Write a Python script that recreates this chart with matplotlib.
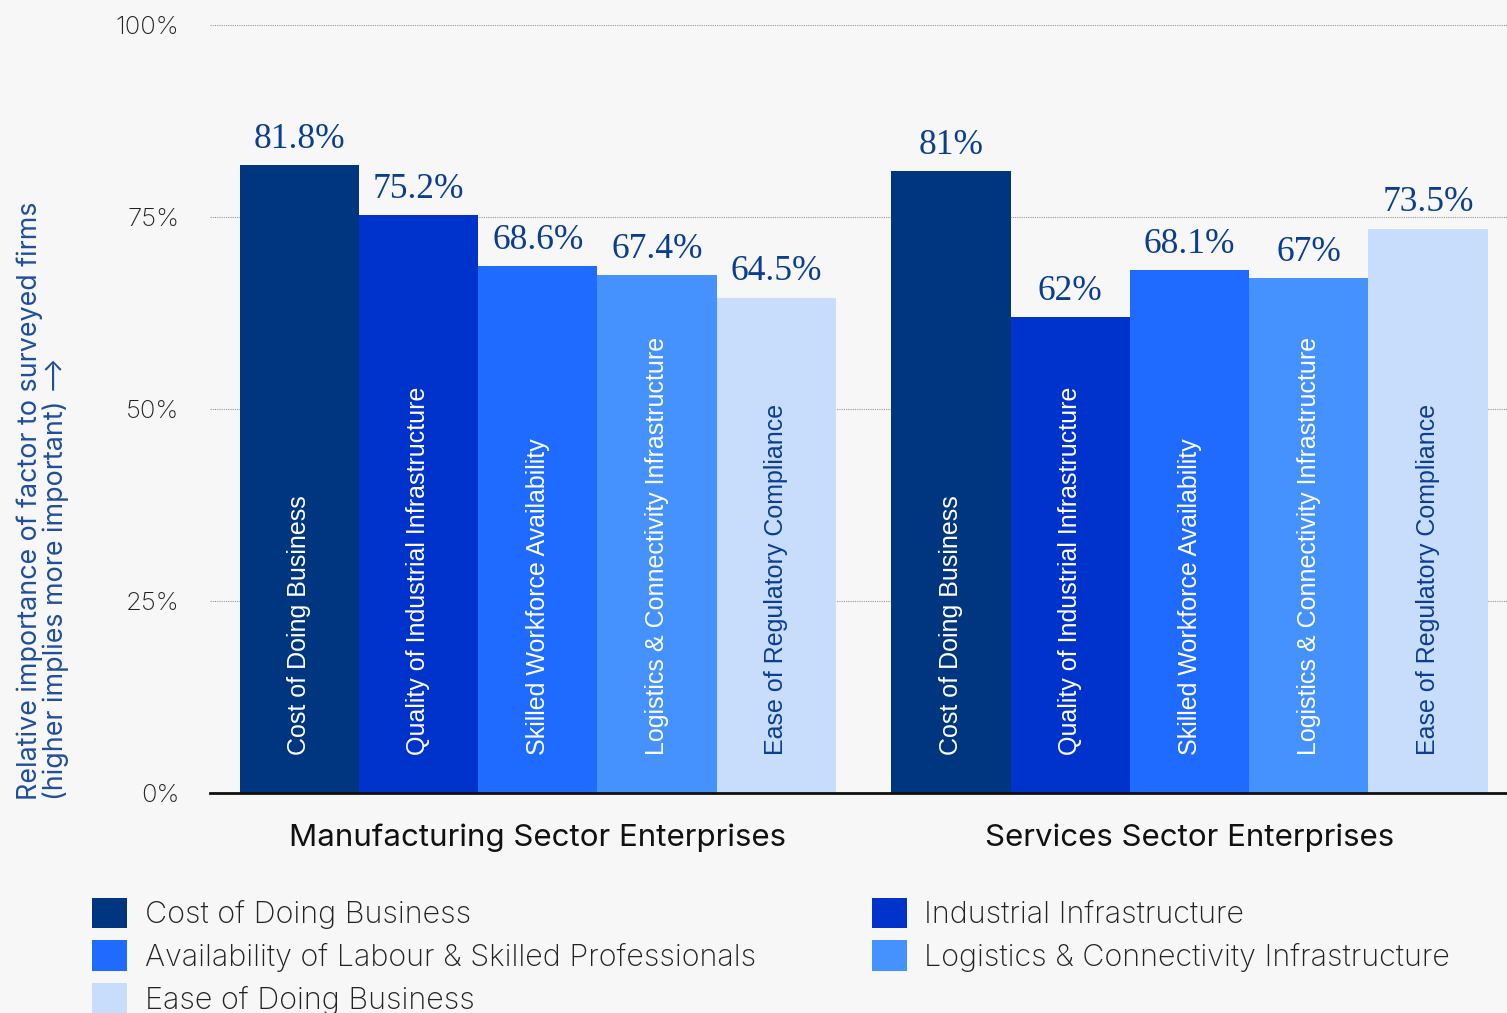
import numpy as np
import matplotlib.pyplot as plt
from matplotlib.patches import Patch

# --- Data ---
sectors = ['Manufacturing Sector Enterprises', 'Services Sector Enterprises']
factors = ['Cost of Doing Business',
           'Quality of Industrial Infrastructure',
           'Skilled Workforce Availability',
           'Logistics & Connectivity Infrastructure',
           'Ease of Regulatory Compliance']
legend_names = ['Cost of Doing Business',
                'Industrial Infrastructure',
                'Availability of Labour & Skilled Professionals',
                'Logistics & Connectivity Infrastructure',
                'Ease of Doing Business']
manufacturing = [81.8, 75.2, 68.6, 67.4, 64.5]
services = [81.0, 62.0, 68.1, 67.0, 73.5]
value_labels = [['81.8%', '75.2%', '68.6%', '67.4%', '64.5%'],
                ['81%', '62%', '68.1%', '67%', '73.5%']]
yticks = [0, 25, 50, 75, 100]

colors = ['#00357F', '#0033CC', '#1F6BFF', '#4592FF', '#C8DCFC']
inner_text_colors = ['white', 'white', 'white', 'white', '#0B3D91']
BG = '#F7F7F7'
NAVY = '#0B3D91'

plt.rcParams['font.family'] = ['Inter', 'DejaVu Sans']

fig = plt.figure(figsize=(15.07, 10.13), dpi=100, facecolor=BG)
ax = fig.add_axes([0.1393, 0.2172, 0.8607, 0.7581], facecolor=BG)

x = np.arange(len(sectors))
width = 0.183
data = [manufacturing, services]

for i, factor in enumerate(factors):
    offs = (i - 2) * width
    vals = [d[i] for d in data]
    bars = ax.bar(x + offs, vals, width=width, color=colors[i], zorder=3)
    for j, b in enumerate(bars):
        cx = b.get_x() + b.get_width() / 2
        ax.text(cx, b.get_height() + 1.2, value_labels[j][i],
                ha='center', va='bottom', fontsize=25.5,
                family='Liberation Serif', color=NAVY, zorder=4)
        ax.text(cx, 5, factor, rotation=90, ha='center', va='bottom',
                fontsize=18, family='Liberation Sans',
                color=inner_text_colors[i], zorder=4)

ax.set_xlim(-0.503, 1.487)
ax.set_ylim(0, 100)
ax.set_yticks(yticks)
ax.set_yticklabels([f'{t}%' for t in yticks], fontsize=18.5, color='#222222',
                   fontweight='light')
ax.yaxis.grid(True, linestyle=(0, (1, 1)), color='#999999', linewidth=0.8, zorder=0)
ax.set_xticks(x)
ax.set_xticklabels(sectors, fontsize=22.5, color='#111111')
ax.tick_params(axis='y', length=0, pad=22)
ax.tick_params(axis='x', length=0, pad=22)
for s in ['top', 'right', 'left']:
    ax.spines[s].set_visible(False)
ax.spines['bottom'].set_linewidth(2)
ax.spines['bottom'].set_color('#111111')
ax.spines['bottom'].set_zorder(5)

# rotated two-line axis title, lines aligned at the bottom
fig.text(43 / 1507, 1 - 800 / 1013,
         'Relative importance of factor to surveyed firms\n'
         '(higher implies more important) \u27f6',
         rotation=90, ha='center', va='bottom', multialignment='left',
         fontsize=19.3, color='#1F4E9C', linespacing=1.0)

# legend fills column-wise, so order handles to read row by row
order = [0, 2, 4, 1, 3]
handles = [Patch(facecolor=colors[k], edgecolor='none') for k in order]
labels = [legend_names[k] for k in order]
fig.legend(handles, labels, ncol=2, loc='upper left',
           bbox_to_anchor=(0.053, 0.126), frameon=False,
           prop=dict(family='Inter', weight='light', size=22),
           handlelength=1.15, handleheight=1.15,
           handletextpad=0.57, columnspacing=3.8, labelspacing=0.37,
           borderaxespad=0, labelcolor='#222222')

fig.savefig('out.png', dpi=100, facecolor=BG)
